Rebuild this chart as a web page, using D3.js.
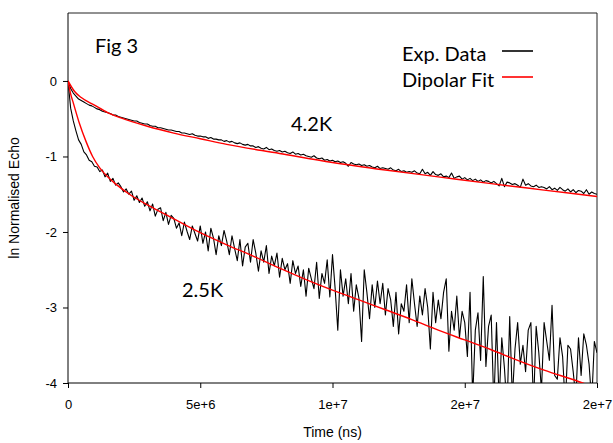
<!DOCTYPE html>
<html>
<head>
<meta charset="utf-8">
<script src="https://cdn.jsdelivr.net/npm/d3@7"></script>
<style>
  html, body { margin: 0; padding: 0; background: #fff; }
  svg { display: block; }
</style>
</head>
<body>
<svg id="chart" width="613" height="443"></svg>
<script>
// Echo decay, ln of the normalised echo versus time, at 4.2 K and 2.5 K.
// Experimental traces are sampled every 1e5 ns starting at t = 0.
const sampleStep = 1e5;

const data42K = [
  0, -0.10, -0.16, -0.20, -0.24, -0.26, -0.28, -0.30, -0.32, -0.33,
  -0.35, -0.37, -0.38, -0.40, -0.41, -0.42, -0.43, -0.45, -0.45, -0.47,
  -0.48, -0.49, -0.50, -0.51, -0.52, -0.53, -0.53, -0.55, -0.56, -0.57,
  -0.57, -0.59, -0.60, -0.60, -0.62, -0.62, -0.63, -0.64, -0.65, -0.65,
  -0.66, -0.67, -0.67, -0.69, -0.69, -0.70, -0.71, -0.70, -0.72, -0.73,
  -0.73, -0.74, -0.74, -0.76, -0.75, -0.77, -0.77, -0.78, -0.78, -0.80,
  -0.79, -0.81, -0.80, -0.82, -0.83, -0.82, -0.84, -0.85, -0.84, -0.86,
  -0.86, -0.88, -0.87, -0.89, -0.90, -0.88, -0.91, -0.90, -0.92, -0.93,
  -0.92, -0.94, -0.93, -0.95, -0.96, -0.94, -0.97, -0.96, -0.98, -0.97,
  -0.99, -1.00, -1.01, -0.99, -1.02, -1.03, -1.02, -1.05, -1.04, -1.06,
  -1.05, -1.07, -1.06, -1.08, -1.07, -1.09, -1.13, -1.08, -1.10, -1.11,
  -1.10, -1.12, -1.11, -1.13, -1.12, -1.14, -1.15, -1.13, -1.16, -1.15,
  -1.16, -1.17, -1.15, -1.18, -1.19, -1.17, -1.20, -1.19, -1.21, -1.20,
  -1.21, -1.19, -1.22, -1.23, -1.17, -1.23, -1.21, -1.25, -1.20, -1.24,
  -1.25, -1.23, -1.27, -1.26, -1.28, -1.22, -1.29, -1.27, -1.26, -1.30,
  -1.28, -1.31, -1.29, -1.32, -1.30, -1.33, -1.31, -1.34, -1.32, -1.33,
  -1.35, -1.33, -1.36, -1.39, -1.29, -1.40, -1.34, -1.35, -1.37, -1.36,
  -1.38, -1.41, -1.30, -1.38, -1.36, -1.39, -1.40, -1.38, -1.41, -1.40,
  -1.41, -1.43, -1.40, -1.44, -1.42, -1.45, -1.41, -1.44, -1.46, -1.43,
  -1.47, -1.44, -1.48, -1.45, -1.46, -1.49, -1.44, -1.50, -1.47, -1.49,
  -1.50
];

const data25K = [
  0, -0.36, -0.53, -0.66, -0.78, -0.84, -0.94, -0.98, -1.05, -1.07,
  -1.13, -1.14, -1.20, -1.18, -1.27, -1.22, -1.33, -1.29, -1.38, -1.35,
  -1.40, -1.47, -1.43, -1.50, -1.46, -1.58, -1.52, -1.61, -1.55, -1.66,
  -1.60, -1.72, -1.63, -1.79, -1.70, -1.68, -1.85, -1.74, -1.90, -1.78,
  -1.82, -1.95, -1.88, -2.05, -1.87, -1.99, -2.10, -1.92, -2.02, -2.12,
  -1.92, -2.15, -2.00, -2.25, -1.95, -2.08, -2.30, -2.05, -2.18, -1.98,
  -2.12, -2.30, -2.05, -2.22, -2.38, -2.10, -2.45, -2.20, -2.15, -2.40,
  -2.10, -2.28, -2.52, -2.25, -2.40, -2.18, -2.55, -2.32, -2.45, -2.28,
  -2.60, -2.35, -2.50, -2.42, -2.68, -2.38, -2.55, -2.45, -2.72, -2.50,
  -2.85, -2.48, -2.62, -2.75, -2.40, -2.88, -2.55, -2.68, -2.37, -2.86,
  -2.30, -2.75, -3.30, -2.50, -2.85, -2.62, -2.95, -2.55, -3.05, -2.70,
  -2.88, -3.45, -2.50, -2.80, -3.15, -2.70, -3.00, -2.65, -2.95, -2.68,
  -3.10, -2.75, -2.90, -3.25, -2.80, -3.35, -2.95, -3.05, -2.70, -3.20,
  -2.62, -2.95, -3.25, -2.85, -3.10, -2.75, -3.00, -3.55, -2.80, -3.20,
  -2.90, -3.15, -2.80, -2.62, -3.58, -3.05, -3.30, -2.85, -3.40, -3.05,
  -3.20, -3.65, -2.80, -4.20, -3.30, -3.07, -3.70, -2.59, -3.78, -3.25,
  -3.10, -4.30, -3.20, -4.25, -3.40, -3.80, -4.35, -3.12, -4.20, -3.55,
  -3.20, -3.75, -3.50, -3.85, -3.30, -3.20, -4.30, -3.25, -3.60, -4.10,
  -3.20, -3.45, -3.70, -2.97, -3.90, -3.95, -3.40, -3.65, -4.30, -3.50,
  -3.55, -3.85, -4.20, -3.40, -3.90, -3.35, -3.50, -3.75, -4.25, -3.45,
  -3.60
];

// Dipolar fit curves, given at knot times (ns).
const fit42KTime = [0, 0.25e6, 0.5e6, 1e6, 1.5e6, 2e6, 3e6, 4e6, 5e6, 6e6, 8e6,
                    1e7, 1.2e7, 1.4e7, 1.6e7, 1.8e7, 2e7];
const fit42KValue = [0, -0.14, -0.22, -0.32, -0.42, -0.49, -0.60, -0.69, -0.765, -0.84, -0.96,
                     -1.08, -1.18, -1.27, -1.36, -1.445, -1.53];

const fit25KTime = [0, 0.1e6, 0.2e6, 0.43e6, 0.68e6, 0.93e6, 1.2e6, 1.5e6, 1.82e6, 2.45e6, 3e6,
                    3.7e6, 5e6, 6e6, 7e6, 8e6, 9e6, 1e7, 1.1e7, 1.2e7, 1.3e7, 1.4e7,
                    1.5e7, 1.6e7, 1.7e7, 1.8e7, 1.93e7, 2e7];
const fit25KValue = [0, -0.17, -0.29, -0.56, -0.80, -1.0, -1.15, -1.27, -1.37, -1.53, -1.64,
                     -1.77, -2.01, -2.17, -2.32, -2.48, -2.63, -2.77, -2.90, -3.03, -3.16, -3.30,
                     -3.43, -3.56, -3.70, -3.83, -3.98, -4.07];

const xTickValues = [0, 5e6, 1e7, 1.5e7, 2e7];
const xTickLabels = ["0", "5e+6", "1e+7", "2e+7", "2e+7"];
const yTickValues = [0, -1, -2, -3, -4];
const yTickLabels = ["0", "-1", "-2", "-3", "-4"];

const legendLabels = ["Exp. Data", "Dipolar Fit"];
const seriesLabels = ["4.2K", "2.5K"];

const svg = d3.select("#chart");
const plot = { left: 68, right: 597, top: 13, bottom: 383 };

const x = d3.scaleLinear().domain([0, 2e7]).range([plot.left, plot.right]);
const y = d3.scaleLinear().domain([-4, 0.9]).range([plot.bottom, plot.top]);

const tickFont = "'Liberation Sans', Arial, sans-serif";
const noteFont = "Lato, 'Open Sans', sans-serif";

svg.append("defs").append("clipPath").attr("id", "plot-clip")
  .append("rect")
  .attr("x", plot.left).attr("y", plot.top)
  .attr("width", plot.right - plot.left).attr("height", plot.bottom - plot.top);

// frame (top and right edges)
svg.append("path")
  .attr("d", `M${plot.left},${plot.top}H${plot.right}V${plot.bottom}`)
  .attr("fill", "none").attr("stroke", "#222").attr("stroke-width", 1);

// axes
const xAxis = d3.axisBottom(x).tickValues(xTickValues)
  .tickFormat((d, i) => xTickLabels[i]).tickSize(5).tickPadding(12);
const yAxis = d3.axisLeft(y).tickValues(yTickValues)
  .tickFormat((d, i) => yTickLabels[i]).tickSize(5).tickPadding(6);

const gx = svg.append("g").attr("transform", `translate(0,${plot.bottom})`).call(xAxis);
const gy = svg.append("g").attr("transform", `translate(${plot.left},0)`).call(yAxis);
[gx, gy].forEach(g => {
  g.select(".domain").attr("stroke", "#000").attr("stroke-width", 1);
  g.selectAll(".tick line").attr("stroke", "#000");
  g.selectAll(".tick text").attr("fill", "#000")
    .style("font-family", tickFont).style("font-size", "13px");
});
gx.select(".domain").attr("d", `M${plot.left},0H${plot.right}`);
gy.select(".domain").attr("d", `M0,${y(-4)}V${plot.top}`);

// axis titles
svg.append("text")
  .attr("x", (plot.left + plot.right) / 2).attr("y", 437)
  .attr("text-anchor", "middle")
  .style("font-family", tickFont).style("font-size", "14px")
  .text("Time (ns)");
svg.append("text")
  .attr("transform", `translate(19,${(plot.top + plot.bottom) / 2}) rotate(-90)`)
  .attr("text-anchor", "middle")
  .style("font-family", tickFont).style("font-size", "14px")
  .text("ln Normalised Echo");

// series
const lineSample = d3.line()
  .x((d, i) => x(i * sampleStep))
  .y(d => y(d));
const lineFit = d3.line()
  .x(d => x(d[0]))
  .y(d => y(d[1]))
  .curve(d3.curveMonotoneX);

const g = svg.append("g").attr("clip-path", "url(#plot-clip)");

g.append("path").datum(data25K)
  .attr("d", lineSample).attr("fill", "none")
  .attr("stroke", "#000").attr("stroke-width", 1.1).attr("stroke-linejoin", "round");
g.append("path").datum(data42K)
  .attr("d", lineSample).attr("fill", "none")
  .attr("stroke", "#000").attr("stroke-width", 1.1).attr("stroke-linejoin", "round");

g.append("path").datum(d3.zip(fit25KTime, fit25KValue))
  .attr("d", lineFit).attr("fill", "none")
  .attr("stroke", "#ff0000").attr("stroke-width", 1.4);
g.append("path").datum(d3.zip(fit42KTime, fit42KValue))
  .attr("d", lineFit).attr("fill", "none")
  .attr("stroke", "#ff0000").attr("stroke-width", 1.4);

// annotations
svg.append("text").attr("x", 95).attr("y", 53)
  .style("font-family", noteFont).style("font-size", "20px").text("Fig 3");
svg.append("text").attr("x", 291).attr("y", 131)
  .style("font-family", noteFont).style("font-size", "20px").text(seriesLabels[0]);
svg.append("text").attr("x", 182).attr("y", 297)
  .style("font-family", noteFont).style("font-size", "20px").text(seriesLabels[1]);

// legend
const legendColors = ["#000", "#ff0000"];
const legend = svg.append("g");
legendLabels.forEach((label, i) => {
  const yy = 61 + i * 26;
  legend.append("text").attr("x", 402).attr("y", yy)
    .style("font-family", noteFont).style("font-size", "20px").text(label);
  legend.append("line")
    .attr("x1", 502).attr("x2", 533)
    .attr("y1", yy - 10).attr("y2", yy - 10)
    .attr("stroke", legendColors[i]).attr("stroke-width", 1.6);
});
</script>
</body>
</html>
